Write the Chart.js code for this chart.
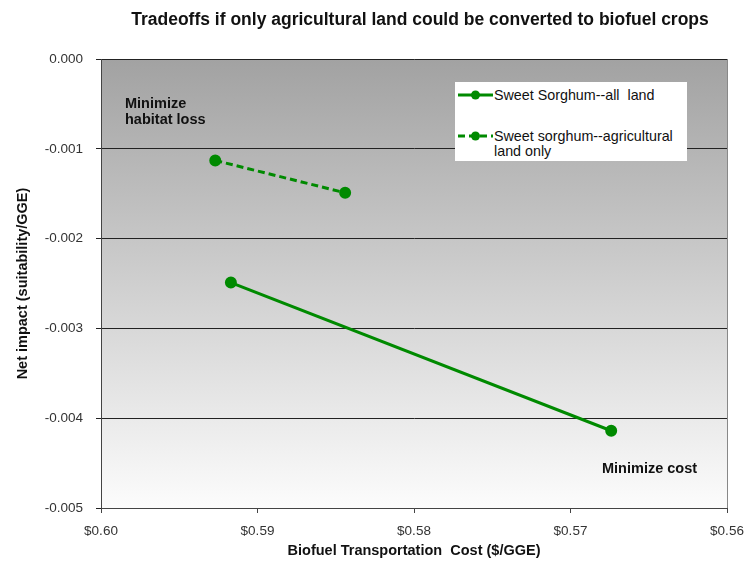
<!DOCTYPE html>
<html>
<head>
<meta charset="utf-8">
<script src="https://cdn.jsdelivr.net/npm/chart.js@4.4.0/dist/chart.umd.min.js"></script>
<style>
  body { margin: 0; background: #fff; font-family: 'Liberation Sans', Arial, sans-serif; overflow: hidden; }
  #wrap { position: relative; width: 748px; height: 565px; }
  #title { position: absolute; left: 420px; top: 9px; transform: translateX(-50%); white-space: nowrap;
           font-size: 17.5px; font-weight: bold; line-height: 20px; color: #111; }
  .note { position: absolute; font-size: 14.5px; font-weight: bold; line-height: 16px; color: #111; }
  #legend { position: absolute; left: 455px; top: 82px; width: 232px; height: 79px; background: #fff; }
  .item { position: absolute; left: 3px; display: flex; align-items: flex-start; font-size: 14.3px; line-height: 15px; color: #111; white-space: pre; }
  .item svg { flex: none; margin-top: 1.5px; }
</style>
</head>
<body>
<div id="wrap">
  <canvas id="myChart" width="748" height="565"></canvas>
  <div id="title">Tradeoffs if only agricultural land could be converted to biofuel crops</div>
  <div class="note" style="left:125px; top:95px;">Minimize<br>habitat loss</div>
  <div class="note" style="left:602px; top:460px;">Minimize cost</div>
  <div id="legend"></div>
</div>
<script>
const seriesNames = ['Sweet Sorghum--all  land', 'Sweet sorghum--agricultural\nland only']
const allLandCost = [0.5917, 0.5674]
const allLandImpact = [-0.00249, -0.00414]
const agLandCost = [0.5927, 0.5844]
const agLandImpact = [-0.00113, -0.00149]
const xTicks = [0.60, 0.59, 0.58, 0.57, 0.56]
const yTicks = [0, -0.001, -0.002, -0.003, -0.004, -0.005]

const green = '#008a00'
const toPoints = (xs, ys) => xs.map((x, i) => ({ x: x, y: ys[i] }))

const plotBg = {
  id: 'plotBg',
  beforeDraw(chart) {
    const { ctx, chartArea: a } = chart
    const g = ctx.createLinearGradient(0, a.top, 0, a.bottom)
    g.addColorStop(0, '#a2a2a2')
    g.addColorStop(1, '#fcfcfc')
    ctx.save()
    ctx.fillStyle = g
    ctx.fillRect(a.left, a.top, a.right - a.left, a.bottom - a.top)
    ctx.strokeStyle = '#888'
    ctx.lineWidth = 1
    ctx.beginPath()
    ctx.moveTo(a.right + 0.5, a.top)
    ctx.lineTo(a.right + 0.5, a.bottom)
    ctx.stroke()
    ctx.restore()
  }
}

const ctx = document.getElementById('myChart')

const chart = new Chart(ctx, {
  type: 'scatter',
  data: {
    datasets: [{
      label: seriesNames[0],
      data: toPoints(allLandCost, allLandImpact),
      showLine: true,
      borderColor: green,
      backgroundColor: green,
      borderWidth: 3,
      pointRadius: 4.5,
      pointHoverRadius: 4.5
    }, {
      label: seriesNames[1],
      data: toPoints(agLandCost, agLandImpact),
      showLine: true,
      borderColor: green,
      backgroundColor: green,
      borderWidth: 3,
      borderDash: [7, 4],
      pointRadius: 4.5,
      pointHoverRadius: 4.5
    }]
  },
  options: {
    responsive: false,
    animation: false,
    devicePixelRatio: 1,
    layout: { padding: { left: 10, top: 59, right: 21, bottom: 1 } },
    plugins: {
      legend: { display: false },
      tooltip: { enabled: false }
    },
    scales: {
      x: {
        type: 'linear',
        reverse: true,
        min: 0.56,
        max: 0.60,
        afterBuildTicks: s => { s.ticks = xTicks.map(v => ({ value: v })) },
        afterFit: s => {
          s.height = 56
          s.paddingLeft = 0
          s.paddingRight = 0
        },
        grid: { drawOnChartArea: false, tickLength: 5, color: '#444' },
        border: { color: '#444' },
        ticks: {
          padding: 10,
          color: '#333',
          font: { family: 'Liberation Sans', size: 13.5 },
          maxRotation: 0,
          callback: v => '$' + v.toFixed(2)
        },
        title: {
          display: true,
          text: 'Biofuel Transportation  Cost ($/GGE)',
          color: '#111',
          font: { family: 'Liberation Sans', size: 14.5, weight: 'bold' }
        }
      },
      y: {
        min: -0.005,
        max: 0,
        afterBuildTicks: s => { s.ticks = yTicks.map(v => ({ value: v })) },
        afterFit: s => { s.width = 91 },
        grid: { color: '#222', tickLength: 5 },
        border: { color: '#444' },
        ticks: {
          padding: 13,
          color: '#333',
          font: { family: 'Liberation Sans', size: 13.5 },
          callback: v => v.toFixed(3)
        },
        title: {
          display: true,
          text: 'Net impact (suitability/GGE)',
          color: '#111',
          font: { family: 'Liberation Sans', size: 14.5, weight: 'bold' }
        }
      }
    }
  },
  plugins: [plotBg]
})

// legend built from the datasets
const legend = document.getElementById('legend')
const tops = [5.5, 46.5]
chart.data.datasets.forEach((ds, i) => {
  const item = document.createElement('div')
  item.className = 'item'
  item.style.top = tops[i] + 'px'
  const dash = ds.borderDash ? 'stroke-dasharray="7 4"' : ''
  item.innerHTML = '<svg width="36" height="12"><line x1="0" y1="6" x2="35" y2="6" stroke="' + green +
    '" stroke-width="3" ' + dash + '/><circle cx="17.5" cy="6" r="4.5" fill="' + green + '"/></svg>' +
    '<span>' + ds.label + '</span>'
  legend.appendChild(item)
})
</script>
</body>
</html>
